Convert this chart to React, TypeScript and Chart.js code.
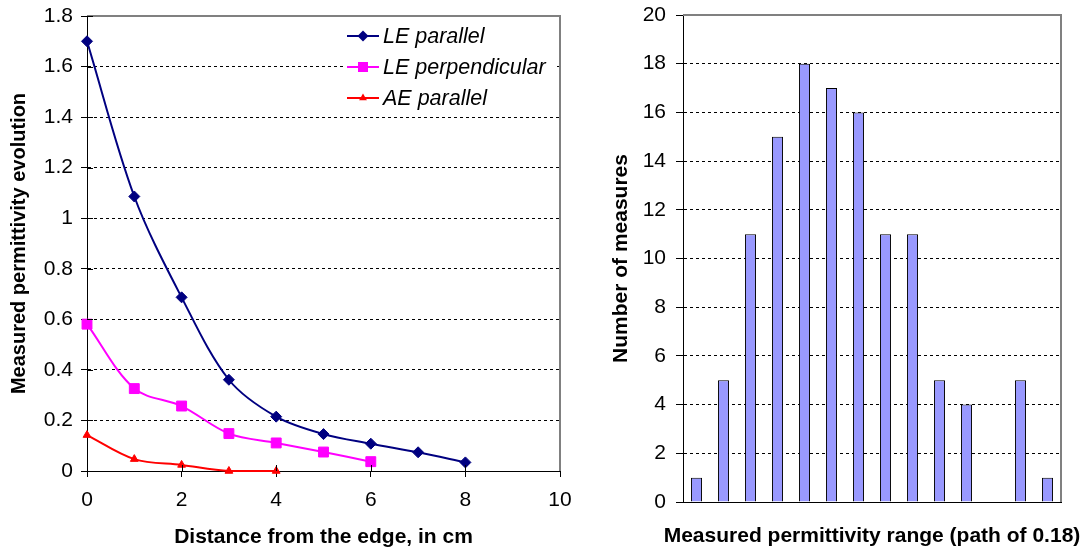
import React, { useEffect, useRef } from 'react';
import { Chart, registerables } from 'chart.js';

Chart.register(...registerables);

// ---------- Data ----------
const distances = [0, 1, 2, 3, 4, 5, 6, 7, 8];
const leParallel = [1.7, 1.086, 0.687, 0.361, 0.215, 0.146, 0.108, 0.074, 0.034];
const lePerpendicular = [0.581, 0.326, 0.257, 0.148, 0.111, 0.075, 0.037];
const aeParallel = [0.142, 0.047, 0.024, 0.0, 0.0];
const seriesNames = ['LE parallel', 'LE perpendicular', 'AE parallel'];
const seriesColors = ['#000080', '#FF00FF', '#FF0000'];
const seriesMarkers = ['rectRot', 'rect', 'triangle'];

const leftYTickLabels = ['0', '0.2', '0.4', '0.6', '0.8', '1', '1.2', '1.4', '1.6', '1.8'];
const leftXTickLabels = ['0', '2', '4', '6', '8', '10'];

const histCategories = ['1', '2', '3', '4', '5', '6', '7', '8', '9', '10', '11', '12', '13', '14'];
const histCounts = [1, 5, 11, 15, 18, 17, 16, 11, 11, 5, 4, 0, 5, 1];
const rightYTickLabels = ['0', '2', '4', '6', '8', '10', '12', '14', '16', '18', '20'];
const rightXTitle = 'Measured permittivity range (path of 0.18)';

const FONT = "'Liberation Sans', Arial, sans-serif";

const toXY = (ys: number[]) => ys.map((y, i) => ({ x: distances[i], y }));

// ---------- Plugins ----------
const framePlugin = {
  id: 'frame',
  afterDatasetsDraw(chart: any) {
    const { ctx, chartArea } = chart;
    ctx.save();
    ctx.strokeStyle = '#808080';
    ctx.lineWidth = 2;
    ctx.beginPath();
    ctx.moveTo(chartArea.left, chartArea.top);
    ctx.lineTo(chartArea.right, chartArea.top);
    ctx.lineTo(chartArea.right, chartArea.bottom);
    ctx.stroke();
    ctx.restore();
  },
};

// tick marks that cross into the plot area (left chart)
const crossTicksPlugin = {
  id: 'crossTicks',
  afterDraw(chart: any) {
    const { ctx, chartArea, scales } = chart;
    ctx.save();
    ctx.strokeStyle = '#000';
    ctx.lineWidth = 1;
    ctx.beginPath();
    scales.y.ticks.forEach((t: any) => {
      const py = Math.round(scales.y.getPixelForValue(t.value)) + 0.5;
      ctx.moveTo(chartArea.left, py);
      ctx.lineTo(chartArea.left + 6, py);
    });
    scales.x.ticks.forEach((t: any) => {
      const px = Math.round(scales.x.getPixelForValue(t.value)) + 0.5;
      if (px > chartArea.right - 2) return;
      ctx.moveTo(px, chartArea.bottom);
      ctx.lineTo(px, chartArea.bottom - 6);
    });
    ctx.stroke();
    ctx.restore();
  },
};

// wide bottom title (wider than the plot area, so drawn unconstrained)
const wideTitlePlugin = {
  id: 'wideTitle',
  afterDraw(chart: any) {
    const { ctx, chartArea } = chart;
    ctx.save();
    ctx.fillStyle = '#000';
    ctx.font = `bold 21px ${FONT}`;
    ctx.textAlign = 'center';
    ctx.textBaseline = 'middle';
    ctx.fillText(rightXTitle, (chartArea.left + chartArea.right) / 2, chart.height - 18);
    ctx.restore();
  },
};

function drawMarker(ctx: CanvasRenderingContext2D, style: string, x: number, y: number, color: string) {
  ctx.fillStyle = color;
  ctx.beginPath();
  if (style === 'rectRot') {
    const r = 5.5;
    ctx.moveTo(x, y - r);
    ctx.lineTo(x + r, y);
    ctx.lineTo(x, y + r);
    ctx.lineTo(x - r, y);
  } else if (style === 'rect') {
    const s = 5;
    ctx.rect(x - s, y - s, 2 * s, 2 * s);
  } else {
    const r = 4.5;
    ctx.moveTo(x, y - r);
    ctx.lineTo(x + r * 0.866, y + r * 0.5);
    ctx.lineTo(x - r * 0.866, y + r * 0.5);
  }
  ctx.closePath();
  ctx.fill();
}

const legendPlugin = {
  id: 'innerLegend',
  afterDraw(chart: any) {
    const { ctx, chartArea } = chart;
    const lineStart = chartArea.right - 213;
    const lineEnd = chartArea.right - 181;
    const textX = chartArea.right - 177;
    const rows = [20, 51, 82];
    ctx.save();
    ctx.fillStyle = '#fff';
    ctx.fillRect(chartArea.right - 216, chartArea.top + 3, 213, 95);
    seriesNames.forEach((name, i) => {
      const y = chartArea.top + rows[i];
      ctx.strokeStyle = seriesColors[i];
      ctx.lineWidth = 2;
      ctx.beginPath();
      ctx.moveTo(lineStart, y);
      ctx.lineTo(lineEnd, y);
      ctx.stroke();
      drawMarker(ctx, seriesMarkers[i], (lineStart + lineEnd) / 2, y, seriesColors[i]);
      ctx.fillStyle = '#000';
      ctx.font = `italic 21.5px ${FONT}`;
      ctx.textAlign = 'left';
      ctx.textBaseline = 'middle';
      ctx.fillText(name, textX, y + 1);
    });
    ctx.restore();
  },
};

const zeroPad = (s: any) => {
  s.paddingLeft = 0;
  s.paddingRight = 0;
  s.paddingTop = 0;
  s.paddingBottom = 0;
};

// ---------- Charts ----------
function LeftChart() {
  const ref = useRef<HTMLCanvasElement>(null);
  useEffect(() => {
    if (!ref.current) return;
    const seriesData = [leParallel, lePerpendicular, aeParallel];
    const chart = new Chart(ref.current, {
      type: 'scatter',
      data: {
        datasets: seriesData.map((d, i) => ({
          label: seriesNames[i],
          data: toXY(d),
          showLine: true,
          borderColor: seriesColors[i],
          backgroundColor: seriesColors[i],
          borderWidth: 2,
          tension: 0.33,
          pointStyle: seriesMarkers[i] as any,
          pointRadius: i === 0 ? 5.5 : i === 1 ? 7 : 4.5,
          pointBorderWidth: 1,
          pointBorderColor: seriesColors[i],
          pointBackgroundColor: seriesColors[i],
          clip: false as any,
        })),
      },
      plugins: [framePlugin, crossTicksPlugin, legendPlugin],
      options: {
        animation: false,
        responsive: false,
        layout: { padding: { left: 0, right: 15, top: 16, bottom: 0 } },
        plugins: { legend: { display: false }, tooltip: { enabled: false } },
        scales: {
          x: {
            type: 'linear',
            min: 0,
            max: 10,
            afterFit: (s: any) => { s.height = 83; zeroPad(s); },
            ticks: {
              stepSize: 2,
              color: '#000',
              font: { family: FONT, size: 21 },
              padding: 11,
              callback: (v: any) => leftXTickLabels[Math.round(Number(v) / 2)] ?? '',
            },
            grid: { drawOnChartArea: false, drawTicks: true, tickLength: 6, tickColor: '#000' },
            border: { color: '#000', width: 1 },
            title: {
              display: true,
              text: 'Distance from the edge, in cm',
              color: '#000',
              font: { family: FONT, size: 21, weight: 'bold' },
              padding: { top: 0, bottom: 4 },
            },
          },
          y: {
            type: 'linear',
            min: 0,
            max: 1.8,
            afterFit: (s: any) => { s.width = 87; zeroPad(s); },
            ticks: {
              stepSize: 0.2,
              color: '#000',
              font: { family: FONT, size: 21 },
              padding: 8,
              callback: (v: any) => leftYTickLabels[Math.round(Number(v) / 0.2)] ?? '',
            },
            grid: {
              color: (c: any) => (c.tick && (c.tick.value > 0.001 && c.tick.value < 1.79) ? '#000' : 'rgba(0,0,0,0)'),
              tickColor: '#000',
              tickLength: 6,
              lineWidth: 1,
            },
            border: { color: '#000', width: 1, dash: [3, 3] },
            title: {
              display: true,
              text: 'Measured permittivity evolution',
              color: '#000',
              font: { family: FONT, size: 20, weight: 'bold' },
              padding: { top: 7, bottom: 0 },
            },
          },
        },
      },
    } as any);
    return () => chart.destroy();
  }, []);
  return <canvas ref={ref} width={575} height={554} style={{ width: 575, height: 554, display: 'block' }} />;
}

function RightChart() {
  const ref = useRef<HTMLCanvasElement>(null);
  useEffect(() => {
    if (!ref.current) return;
    const chart = new Chart(ref.current, {
      type: 'bar',
      data: {
        labels: histCategories,
        datasets: [
          {
            label: 'Number of measures',
            data: histCounts,
            backgroundColor: '#9999FF',
            borderColor: '#000',
            borderWidth: 1,
            barPercentage: 0.41,
            categoryPercentage: 1.0,
          },
        ],
      },
      plugins: [framePlugin, wideTitlePlugin],
      options: {
        animation: false,
        responsive: false,
        layout: { padding: { left: 0, right: 25, top: 15, bottom: 0 } },
        plugins: { legend: { display: false }, tooltip: { enabled: false } },
        scales: {
          x: {
            type: 'category',
            afterFit: (s: any) => { s.height = 52; zeroPad(s); },
            ticks: { display: false },
            grid: { drawOnChartArea: false, drawTicks: false },
            border: { color: '#000', width: 1 },
            title: { display: false },
          },
          y: {
            type: 'linear',
            min: 0,
            max: 20,
            afterFit: (s: any) => { s.width = 93; zeroPad(s); },
            ticks: {
              stepSize: 2,
              color: '#000',
              font: { family: FONT, size: 21 },
              padding: 10,
              callback: (v: any) => rightYTickLabels[Math.round(Number(v) / 2)] ?? '',
            },
            grid: {
              color: (c: any) => (c.tick && (c.tick.value > 0.001 && c.tick.value < 19.9) ? '#000' : 'rgba(0,0,0,0)'),
              tickColor: '#000',
              tickLength: 7,
              lineWidth: 1,
            },
            border: { color: '#000', width: 1, dash: [3, 3] },
            title: {
              display: true,
              text: 'Number of measures',
              color: '#000',
              font: { family: FONT, size: 21, weight: 'bold' },
              padding: { top: 19, bottom: 0 },
            },
          },
        },
      },
    } as any);
    return () => chart.destroy();
  }, []);
  return <canvas ref={ref} width={496} height={554} style={{ width: 496, height: 554, display: 'block' }} />;
}

export default function App() {
  useEffect(() => {
    document.body.style.margin = '0';
    document.body.style.background = '#fff';
  }, []);
  return (
    <div style={{ position: 'relative', width: 1086, height: 554, background: '#fff', overflow: 'hidden' }}>
      <div style={{ position: 'absolute', left: 0, top: 0 }}>
        <LeftChart />
      </div>
      <div style={{ position: 'absolute', left: 590, top: 0 }}>
        <RightChart />
      </div>
    </div>
  );
}
